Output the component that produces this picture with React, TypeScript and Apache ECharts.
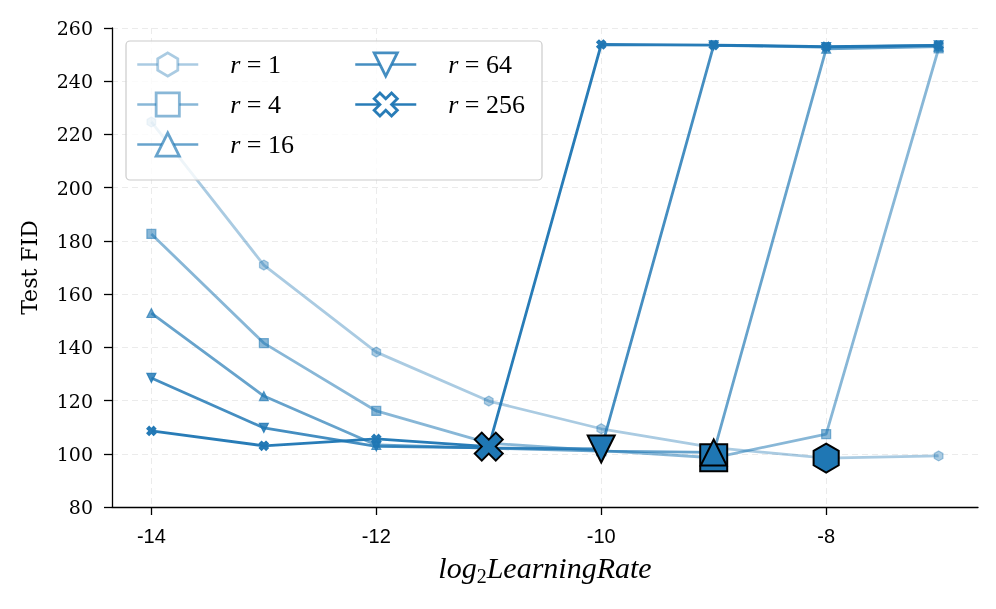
import React, { useEffect, useRef } from 'react';
import * as echarts from 'echarts';

// ---- data ----
const xValues = [-14, -13, -12, -11, -10, -9, -8, -7];
const rLabels = ['1', '4', '16', '64', '256'];
const fidR1 = [224.7, 170.9, 138.2, 119.8, 109.4, 102.3, 98.4, 99.2];
const fidR4 = [182.6, 141.6, 116.1, 104.0, 101.2, 98.5, 107.4, 252.3];
const fidR16 = [152.9, 121.7, 103.3, 102.1, 101.0, 100.5, 252.2, 253.0];
const fidR64 = [128.5, 109.7, 102.8, 102.2, 101.8, 253.5, 252.8, 253.5];
const fidR256 = [108.6, 103.0, 105.6, 102.7, 253.8, 253.6, 253.0, 253.5];
const xTicks = [-14, -12, -10, -8];
const yMin = 80;
const yMax = 260;
const yStep = 20;

const seriesValues = [fidR1, fidR4, fidR16, fidR64, fidR256];

// hexagon with invisible zero-length anchors so its box is square (keeps true proportions)
const HEX = 'path://M-1,0L-1,0M1,0L1,0M0,-1L0.866,-0.5L0.866,0.5L0,1L-0.866,0.5L-0.866,-0.5Z';
const DOWN = 'path://M-1,-1L1,-1L0,1Z';
const XSYM =
  'path://M1.414,-2.828L0,-1.414L-1.414,-2.828L-2.828,-1.414L-1.414,0L-2.828,1.414L-1.414,2.828L0,1.414L1.414,2.828L2.828,1.414L1.414,0L2.828,-1.414Z';
const symbols = [HEX, 'rect', 'triangle', DOWN, XSYM];
const bigSizes = [29, 27, 26, 27, 28];
const alphas = [0.38, 0.53, 0.68, 0.83, 0.96];
const rgba = (a: number) => `rgba(31,119,180,${a})`;

export default function App() {
  const ref = useRef<HTMLDivElement>(null);
  useEffect(() => {
    if (!ref.current) return;
    const chart = echarts.init(ref.current, undefined, { renderer: 'svg' });
    const names = rLabels.map((r) => `r = ${r}`);

    const lineSeries = seriesValues.map((vals, i) => {
      const c = rgba(alphas[i]);
      return {
        type: 'line',
        name: names[i],
        data: xValues.map((x, j) => [x, vals[j]]),
        symbol: symbols[i],
        symbolSize: i === 0 ? 10 : 9,
        symbolKeepAspect: true,
        showAllSymbol: true,
        lineStyle: { color: c, width: 2.8 },
        itemStyle: { color: c, borderColor: c, borderWidth: 1.2, opacity: 1 },
        emphasis: { disabled: true },
        z: 2,
      };
    });

    const bestPoints = seriesValues.map((vals, i) => {
      let k = 0;
      vals.forEach((v, j) => {
        if (v < vals[k]) k = j;
      });
      return {
        value: [xValues[k], vals[k]],
        symbol: symbols[i],
        symbolSize: bigSizes[i],
      };
    });

    const legendData = names.map((n, i) => ({
      name: n,
      itemStyle: { color: '#ffffff', borderColor: rgba(alphas[i]), borderWidth: 2.8 },
      lineStyle: { color: rgba(alphas[i]), width: 2.5 },
    }));

    const legendCommon = {
      orient: 'vertical',
      padding: 0,
      itemWidth: 61,
      itemHeight: 29,
      itemGap: 14,
      selectedMode: false,
      formatter: (n: string) => `{sp|}{i|r}{n|${n.slice(1)}}`,
      textStyle: {
        rich: {
          sp: { width: 27 },
          i: { fontFamily: 'Liberation Serif', fontStyle: 'italic', fontSize: 26, color: '#000' },
          n: { fontFamily: 'Liberation Serif', fontSize: 26, color: '#000' },
        },
      },
    };

    const fontSerif = 'DejaVu Serif';

    chart.setOption({
      animation: false,
      grid: { left: 112, right: 18, top: 28, bottom: 102, containLabel: false },
      xAxis: {
        type: 'value',
        min: -14.35,
        max: -6.65,
        name: '{a|log}{s|2}{a|LearningRate}',
        nameLocation: 'middle',
        nameGap: 45,
        nameTextStyle: {
          rich: {
            a: { fontFamily: 'Liberation Serif', fontStyle: 'italic', fontSize: 30, lineHeight: 30, verticalAlign: 'top', color: '#000' },
            s: { fontFamily: 'Liberation Serif', fontSize: 20, lineHeight: 20, padding: [14, 0, 0, 0], verticalAlign: 'top', color: '#000' },
          },
        },
        axisLine: { lineStyle: { color: '#000', width: 1.3 } },
        axisTick: { customValues: xTicks, length: 8, lineStyle: { color: '#000', width: 1.3 } },
        axisLabel: {
          customValues: xTicks,
          margin: 19,
          fontFamily: 'Liberation Sans',
          fontSize: 20,
          color: '#000',
          formatter: (v: number) => String(v),
        },
        splitLine: { show: true, lineStyle: { type: [6, 4], color: '#ebebeb', width: 1 } },
      },
      yAxis: {
        type: 'value',
        min: yMin,
        max: yMax,
        interval: yStep,
        name: 'Test FID',
        nameLocation: 'middle',
        nameGap: 72,
        nameTextStyle: { fontFamily: fontSerif, fontSize: 22, color: '#000' },
        axisLine: { show: true, lineStyle: { color: '#000', width: 1.3 } },
        axisTick: { show: true, length: 8, lineStyle: { color: '#000', width: 1.3 } },
        axisLabel: { margin: 19, fontFamily: fontSerif, fontSize: 19, color: '#000' },
        splitLine: { show: true, lineStyle: { type: [6, 4], color: '#ebebeb', width: 1 } },
      },
      legend: [
        { ...legendCommon, left: 136, top: 51.5, data: legendData.slice(0, 3) },
        { ...legendCommon, left: 354, top: 51.5, data: legendData.slice(3) },
      ],
      graphic: [
        {
          type: 'rect',
          shape: { x: 126, y: 41, width: 416, height: 139, r: 4 },
          style: { fill: 'rgba(255,255,255,0.8)', stroke: '#cccccc', lineWidth: 1.2 },
          z: 3,
        },
      ],
      series: [
        ...lineSeries,
        {
          type: 'scatter',
          name: 'best',
          data: bestPoints,
          symbolKeepAspect: true,
          itemStyle: { color: '#1f77b4', borderColor: '#000', borderWidth: 2, opacity: 1 },
          emphasis: { disabled: true },
          z: 5,
        },
      ],
    });
    return () => chart.dispose();
  }, []);
  return <div ref={ref} style={{ position: 'fixed', left: 0, top: 0, width: 996, height: 609 }} />;
}
